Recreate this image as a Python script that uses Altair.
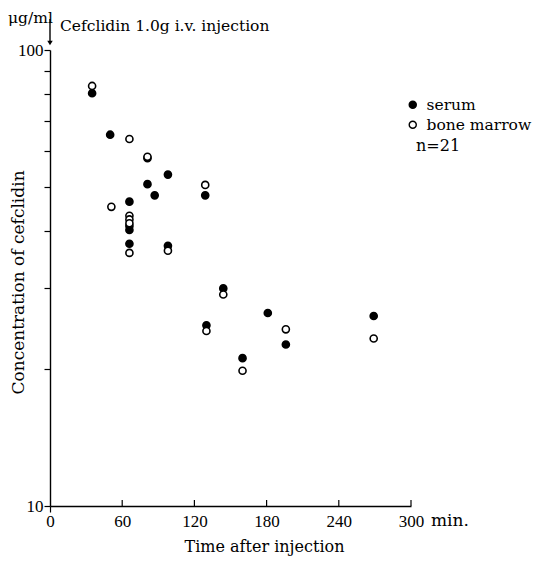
import altair as alt
import pandas as pd

# ---- data ----
serum_t = [35, 50, 66, 66, 66, 66, 81, 81, 87, 98, 98, 129, 130, 144, 160, 181, 196, 269]
serum_v = [80.4, 65.2, 46.5, 41.1, 40.3, 37.6, 57.9, 50.8, 48.0, 53.3, 37.2, 48.0, 24.9, 30.0, 21.1, 26.5, 22.6, 26.1]
marrow_t = [35, 51, 66, 66, 66, 66, 66, 81, 98, 129, 130, 144, 160, 196, 269]
marrow_v = [83.4, 45.3, 63.8, 43.3, 42.5, 41.7, 35.9, 58.3, 36.3, 50.6, 24.2, 29.1, 19.8, 24.4, 23.3]
groups = ["serum", "bone marrow"]
x_ticks = [0, 60, 120, 180, 240, 300]
y_ticks = [10, 20, 30, 40, 50, 60, 70, 80, 90, 100]

rows = [{"t": t, "v": v, "group": groups[0]} for t, v in zip(serum_t, serum_v)]
rows += [{"t": t, "v": v, "group": groups[1]} for t, v in zip(marrow_t, marrow_v)]
df = pd.DataFrame(rows)

SERIF = "DejaVu Serif"
NUM = "Liberation Serif"
W, H = 361, 456

xscale = alt.Scale(domain=[0, 300], nice=False, zero=False)
yscale = alt.Scale(type="log", domain=[10, 100], nice=False)

x_enc = alt.X(
    "t:Q", scale=xscale,
    axis=alt.Axis(
        values=x_ticks, title="Time after injection", titleFont=SERIF, titleFontSize=16,
        titleFontWeight="normal", titleColor="black", titleX=214, titleY=40,
        titleBaseline="middle", titleAnchor="middle",
        labelFont=NUM, labelFontSize=17, labelColor="black", labelPadding=1,
        labelExpr="datum.value", labelFlush=False,
        tickColor={"condition": {"test": "datum.value == 0", "value": "black"}, "value": "transparent"},
        tickSize=6, tickWidth=1.2, domainColor="black", domainWidth=1.4, grid=False,
    ),
)
y_enc = alt.Y(
    "v:Q", scale=yscale,
    axis=alt.Axis(
        values=y_ticks, title="Concentration of cefclidin", titleFont=SERIF, titleFontSize=17,
        titleFontWeight="normal", titleColor="black", titleX=-32, titleY=232,
        titleBaseline="middle", titleAngle=270,
        labelExpr="datum.value == 10 || datum.value == 100 ? datum.value : ''",
        labelFont=NUM, labelFontSize=17, labelColor="black", labelPadding=1, labelFlush=False,
        tickColor="black", tickSize=6, tickWidth=1.2, domainColor="black", domainWidth=1.4,
        grid=False,
    ),
)

points = alt.Chart(df).mark_point(filled=False, size=50, strokeWidth=1.6, stroke="black", opacity=1).encode(
    x=x_enc, y=y_enc,
    fill=alt.Fill(
        "group:N",
        scale=alt.Scale(domain=groups, range=["black", "white"]),
        legend=alt.Legend(
            title=None, orient="none", legendX=355, legendY=47, padding=0,
            labelFont=SERIF, labelFontSize=15.5, labelColor="black", labelOffset=6,
            symbolType="circle", symbolSize=50, symbolStrokeColor="black", symbolStrokeWidth=1.4,
            rowPadding=3,
        ),
    ),
)

tick_df = pd.DataFrame({"t": x_ticks[1:]})
up_ticks = alt.Chart(tick_df).mark_rule(color="black", strokeWidth=1.2).encode(
    x=alt.X("t:Q", scale=xscale), y=alt.value(H), y2=alt.value(H - 6)
)

min_txt = alt.Chart(pd.DataFrame({"t": [300], "s": ["min."]})).mark_text(
    font=SERIF, fontSize=17, align="left", baseline="top", dx=20, color="black"
).encode(x=alt.X("t:Q", scale=xscale), y=alt.value(H + 7), text="s:N")

ann = pd.DataFrame({"s": ["μg/ml", "Cefclidin 1.0g i.v. injection", "n=21"]})
unit_txt = alt.Chart(ann.iloc[[0]]).mark_text(
    font=SERIF, fontSize=15.5, align="left", baseline="middle", color="black"
).encode(x=alt.value(-42), y=alt.value(-32), text="s:N")
inj_txt = alt.Chart(ann.iloc[[1]]).mark_text(
    font=SERIF, fontSize=15.5, align="left", baseline="middle", color="black"
).encode(x=alt.value(10), y=alt.value(-24), text="s:N")
n_txt = alt.Chart(ann.iloc[[2]]).mark_text(
    font=SERIF, fontSize=16, align="left", baseline="middle", color="black"
).encode(x=alt.value(366), y=alt.value(96), text="s:N")

arrow_line = alt.Chart(pd.DataFrame({"t": [0]})).mark_rule(color="black", strokeWidth=1.4).encode(
    x=alt.X("t:Q", scale=xscale), y=alt.value(-31), y2=alt.value(-8)
)
arrow_head = alt.Chart(pd.DataFrame({"t": [0]})).mark_point(
    shape="triangle-down", filled=True, color="black", size=30, opacity=1
).encode(x=alt.X("t:Q", scale=xscale), y=alt.value(-7))

chart = alt.layer(
    up_ticks, points, min_txt, unit_txt, inj_txt, n_txt, arrow_line, arrow_head
).properties(
    width=W, height=H,
    background="white",
    autosize=alt.AutoSizeParams(type="none"),
    padding={"left": 42, "top": 42, "right": 121, "bottom": 50},
).configure_view(stroke="transparent", strokeWidth=0)

chart.save("out.html", embed_options={"renderer": "svg", "actions": False})
